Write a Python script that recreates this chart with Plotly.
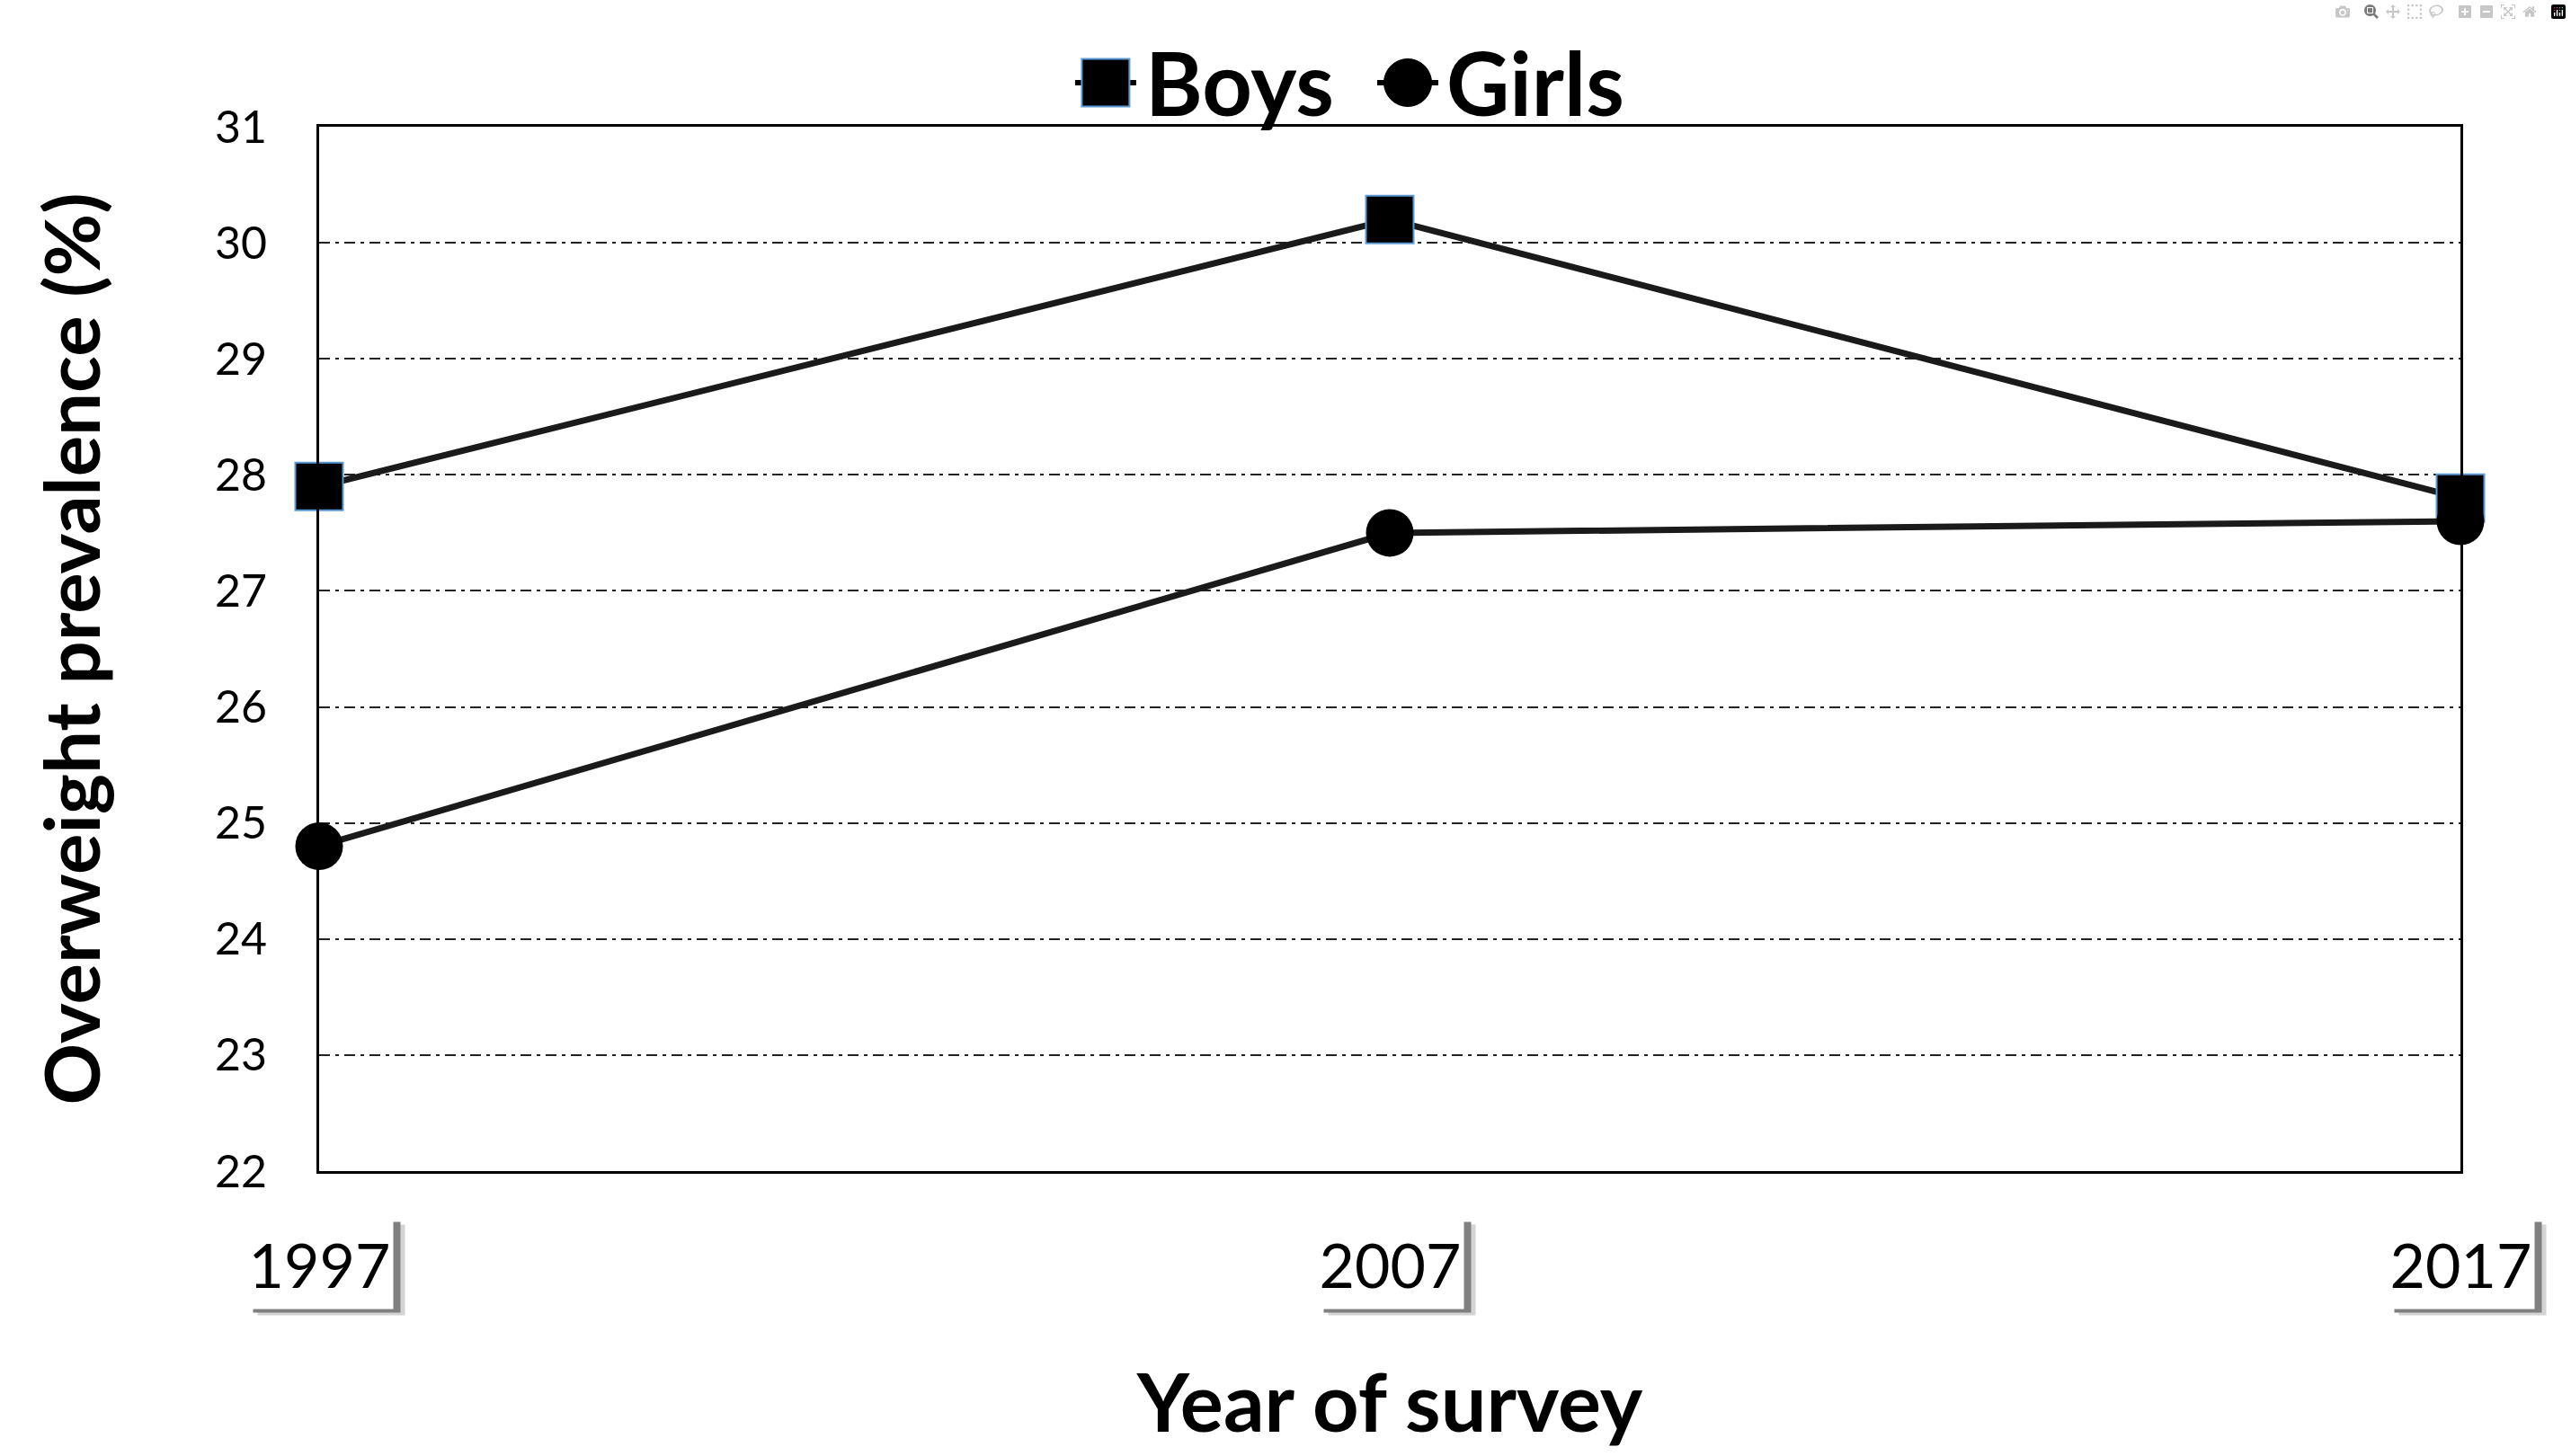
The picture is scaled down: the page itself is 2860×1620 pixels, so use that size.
import plotly.graph_objects as go

# data
years = [1997, 2007, 2017]
year_labels = ['1997', '2007', '2017']
boys = [27.9, 30.2, 27.8]
girls = [24.8, 27.5, 27.6]

FONT = 'Lato'
LABEL_Y = -0.0886  # paper y of the boxed year labels

fig = go.Figure()
fig.add_trace(go.Scatter(
    x=years, y=boys, name='Boys', mode='lines+markers', cliponaxis=False,
    line=dict(color='#1a1a1a', width=7),
    marker=dict(symbol='square', size=53, color='black', line=dict(color='#5b9bd5', width=2)),
))
fig.add_trace(go.Scatter(
    x=years, y=girls, name='Girls', mode='lines+markers', cliponaxis=False,
    line=dict(color='#1a1a1a', width=7),
    marker=dict(symbol='circle', size=53, color='black'),
))

# boxed year labels with a drop shadow
for yr, lab in zip(years, year_labels):
    for dx, dy, col in [(13, -7, '#d4d4d4'), (8, -4, '#808080')]:
        fig.add_annotation(x=yr, xref='x', y=LABEL_Y, yref='paper', text='\u00a0', showarrow=False,
                           xanchor='center', yanchor='middle',
                           width=163, height=100, bgcolor=col, borderpad=0, xshift=dx, yshift=dy)
    fig.add_annotation(x=yr, xref='x', y=LABEL_Y, yref='paper', text=lab, showarrow=False,
                       xanchor='center', yanchor='middle',
                       width=163, height=100, bgcolor='white', borderpad=0,
                       font=dict(family=FONT, size=68, color='black'))

# legend drawn by hand so the keys keep the marker size
legend_y = 1.0422
keys = [('Boys', 0.3673, 0.3854, 'square'), ('Girls', 0.5084, 0.5260, 'circle')]
for name, kx, tx, sym in keys:
    fig.add_shape(type='line', xref='paper', yref='paper', xsizemode='pixel', ysizemode='pixel',
                  xanchor=kx, yanchor=legend_y, x0=-34, x1=34, y0=0, y1=0,
                  line=dict(color='black', width=6))
    if sym == 'square':
        fig.add_shape(type='rect', xref='paper', yref='paper', xsizemode='pixel', ysizemode='pixel',
                      xanchor=kx, yanchor=legend_y, x0=-26.5, x1=26.5, y0=-26.5, y1=26.5,
                      fillcolor='black', line=dict(color='#5b9bd5', width=2))
    else:
        fig.add_shape(type='circle', xref='paper', yref='paper', xsizemode='pixel', ysizemode='pixel',
                      xanchor=kx, yanchor=legend_y, x0=-26.5, x1=26.5, y0=-26.5, y1=26.5,
                      fillcolor='black', line=dict(color='black', width=1))
    fig.add_annotation(x=tx, xref='paper', y=legend_y, yref='paper', text=name, showarrow=False,
                       xanchor='left', yanchor='middle', borderpad=0,
                       font=dict(family=FONT, size=97, color='black', weight='bold'))

fig.update_xaxes(range=[1997, 2017], showgrid=False, showticklabels=False, ticks='', zeroline=False,
                 showline=True, linecolor='black', linewidth=3, mirror=True,
                 title=dict(text='Year of survey', standoff=225,
                            font=dict(family=FONT, size=90, color='black', weight='bold')))
fig.update_yaxes(range=[22, 31], tick0=22, dtick=1, ticks='', ticklabelstandoff=45, zeroline=False,
                 tickfont=dict(family=FONT, size=50, color='black'),
                 showgrid=True, gridcolor='#222222', gridwidth=2, griddash='12px,6px,4px,6px',
                 showline=True, linecolor='black', linewidth=3, mirror=True,
                 title=dict(text='Overweight prevalence (%)', standoff=100,
                            font=dict(family=FONT, size=85, color='black', weight='bold')))

fig.update_layout(
    width=2860, height=1620,
    margin=dict(l=355, r=123, t=141, b=317),
    paper_bgcolor='white', plot_bgcolor='white',
    showlegend=False,
    font=dict(family=FONT, color='black'),
)

fig.write_html("out.html", post_script="document.body.style.margin='0';document.body.style.overflow='hidden';")
